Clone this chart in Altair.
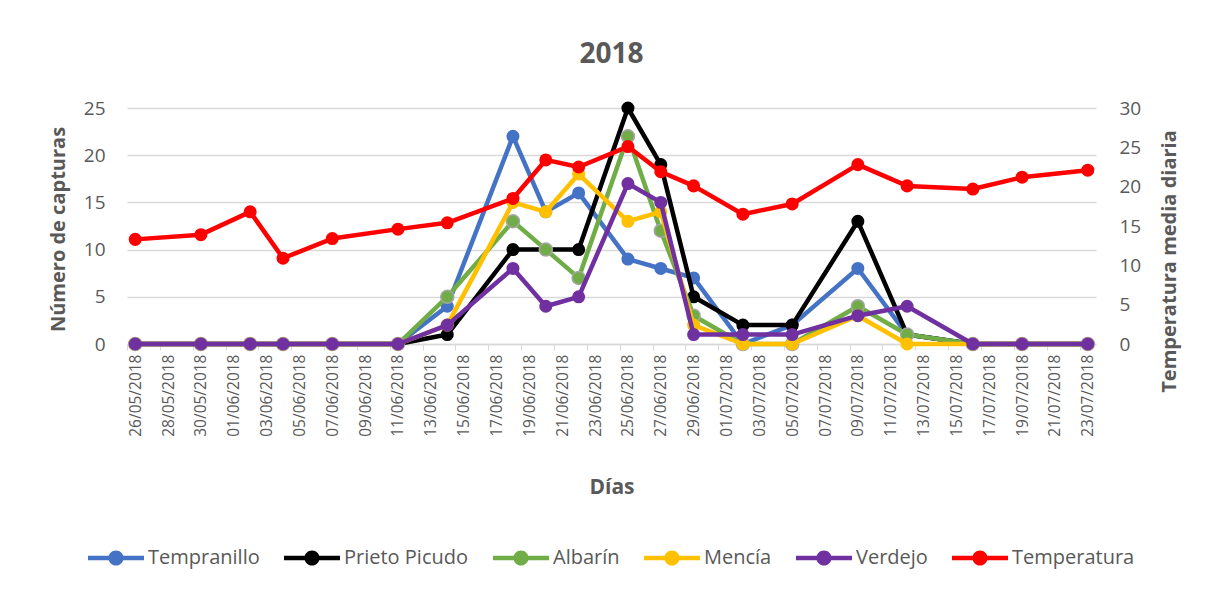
import altair as alt
import pandas as pd

# ---- data ----
fechas = ["2018-05-26", "2018-05-30", "2018-06-02", "2018-06-04", "2018-06-07",
          "2018-06-11", "2018-06-14", "2018-06-18", "2018-06-20", "2018-06-22",
          "2018-06-25", "2018-06-27", "2018-06-29", "2018-07-02", "2018-07-05",
          "2018-07-09", "2018-07-12", "2018-07-16", "2018-07-19", "2018-07-23"]

tempranillo   = [0, 0, 0, 0, 0, 0, 4, 22, 14, 16, 9, 8, 7, 0, 2, 8, 1, 0, 0, 0]
prieto_picudo = [0, 0, 0, 0, 0, 0, 1, 10, 10, 10, 25, 19, 5, 2, 2, 13, 1, 0, 0, 0]
albarin       = [0, 0, 0, 0, 0, 0, 5, 13, 10, 7, 22, 12, 3, 0, 0, 4, 1, 0, 0, 0]
mencia        = [0, 0, 0, 0, 0, 0, 2, 15, 14, 18, 13, 14, 2, 0, 0, 3, 0, 0, 0, 0]
verdejo       = [0, 0, 0, 0, 0, 0, 2, 8, 4, 5, 17, 15, 1, 1, 1, 3, 4, 0, 0, 0]
temperatura   = [13.3, 13.9, 16.8, 10.9, 13.4, 14.6, 15.4, 18.5, 23.4, 22.5,
                 25.1, 21.9, 20.1, 16.5, 17.8, 22.8, 20.1, 19.7, 21.2, 22.1]

series = ["Tempranillo", "Prieto Picudo", "Albarín", "Mencía", "Verdejo", "Temperatura"]
colores = ["#4472C4", "#000000", "#70AD47", "#FFC000", "#7030A0", "#FF0000"]
valores = dict(zip(series, [tempranillo, prieto_picudo, albarin, mencia, verdejo, temperatura]))

left_ticks = [0, 5, 10, 15, 20, 25]
right_ticks = [0, 5, 10, 15, 20, 25, 30]

rows = []
for s in series:
    for f, v in zip(fechas, valores[s]):
        rows.append({"fecha": f, "serie": s, "valor": v})
df = pd.DataFrame(rows)

FONT = "Open Sans"
GRAY = "#595959"
GRID = "#D9D9D9"
W, H = 969, 236
half_day = W / 59 / 2

tick_dates = pd.date_range("2018-05-26", "2018-07-23", freq="2D")
tick_vals = [alt.DateTime(year=d.year, month=d.month, date=d.day, utc=True) for d in tick_dates]

x_enc = alt.X(
    "fecha:T",
    scale=alt.Scale(type="utc",
                    domain=[alt.DateTime(year=2018, month=5, date=25, hours=12, utc=True),
                            alt.DateTime(year=2018, month=7, date=23, hours=12, utc=True)]),
    axis=alt.Axis(values=tick_vals, format="%d/%m/%Y", labelAngle=-90, labelAlign="right",
                  labelBaseline="middle", labelFont=FONT, labelFontSize=15.5, labelColor=GRAY,
                  labelPadding=4, tickOffset=-half_day, labelOffset=half_day,
                  ticks=True, tickSize=6, tickColor=GRID, domainColor=GRID, domainWidth=1.3,
                  grid=False, labelOverlap=False, labelBound=False, labelFlush=False,
                  title="Días", titleFont=FONT, titleFontSize=21, titleFontWeight="bold",
                  titleColor=GRAY, titleBaseline="alphabetic", titleY=149, titleX=W / 2,
                  titleAlign="center"),
)

y_left = alt.Y(
    "valor:Q",
    scale=alt.Scale(domain=[0, 25], nice=False),
    axis=alt.Axis(values=left_ticks, title="Número de capturas", grid=True, gridColor=GRID,
                  gridWidth=1.3, domain=False, ticks=False, labelPadding=22, labelFont=FONT,
                  labelFontSize=19, labelColor=GRAY, titleFont=FONT, titleFontSize=20,
                  titleFontWeight="bold", titleColor=GRAY, titleAngle=270,
                  titleBaseline="alphabetic", titleAlign="center", titleX=-63, titleY=121),
)

y_right = alt.Y(
    "valor:Q",
    scale=alt.Scale(domain=[0, 30], nice=False),
    axis=alt.Axis(orient="right", values=right_ticks, title="Temperatura media diaria",
                  grid=False, domain=False, ticks=False, labelPadding=23, labelFont=FONT,
                  labelFontSize=19, labelColor=GRAY, titleFont=FONT, titleFontSize=20,
                  titleFontWeight="bold", titleColor=GRAY, titleAngle=270,
                  titleBaseline="alphabetic", titleAlign="center", titleX=79, titleY=153),
)

SYMBOL = ("M-1,-0.08 L1,-0.08 L1,0.08 L-1,0.08 Z "
          "M0,-0.27 A0.27,0.27 0 1 1 0,0.27 A0.27,0.27 0 1 1 0,-0.27 Z")

legend = alt.Legend(orient="none", legendX=-39, legendY=422, direction="horizontal",
                    title=None, symbolType=SYMBOL, symbolSize=3136, symbolStrokeWidth=0,
                    labelFont=FONT, labelFontSize=20, labelColor=GRAY, labelOffset=4,
                    columnPadding=24, symbolOpacity=1)

color_enc = alt.Color("serie:N", scale=alt.Scale(domain=series, range=colores), legend=legend)

base = alt.Chart(df)


def series_layers(name, y_enc):
    b = base.transform_filter(alt.datum.serie == name)
    line = b.mark_line(strokeWidth=4.5, strokeJoin="round", strokeCap="round").encode(
        x=x_enc, y=y_enc, color=color_enc)
    if name == "Albarín":
        pts = b.mark_point(filled=True, size=170, opacity=1, stroke="#A5A5A5", strokeWidth=1.5)
    else:
        pts = b.mark_point(filled=True, size=170, opacity=1)
    pts = pts.encode(x=x_enc, y=y_enc, color=color_enc)
    return [line, pts]


left_layers = []
for s in series[:5]:
    left_layers += series_layers(s, y_left)
right_layers = series_layers("Temperatura", y_right)

chart = alt.layer(alt.layer(*left_layers), alt.layer(*right_layers)).resolve_scale(
    y="independent"
).properties(
    width=W, height=H,
    title=alt.TitleParams("2018", font=FONT, fontSize=28, fontWeight="bold", color=GRAY,
                          anchor="middle", frame="group", baseline="alphabetic", offset=8),
    padding={"left": 119, "top": 100, "right": 95, "bottom": 230},
    autosize=alt.AutoSizeParams(type="none"),
    background="white",
).configure_view(stroke=None)

chart.save("out.html", embed_options={"renderer": "svg", "actions": False})
